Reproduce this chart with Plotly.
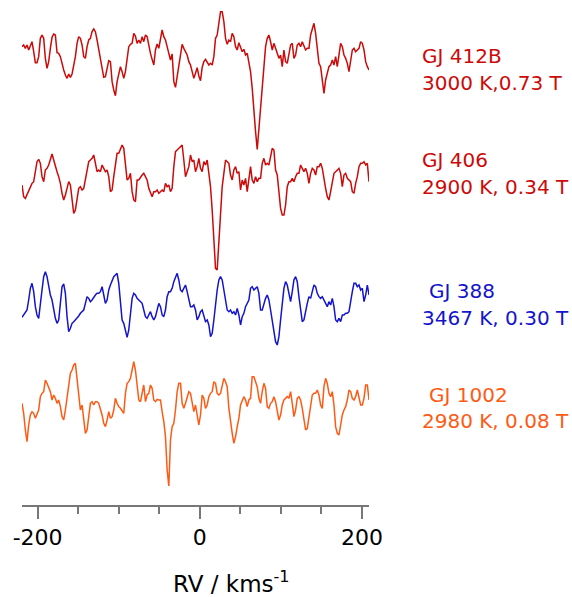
import numpy as np
import plotly.graph_objects as go

# LSD profiles: one value every ~2.06 km/s from -219.3 to 208.7
# (relative depth, arbitrary units, larger = deeper), stacked with an offset per star
rv = np.linspace(-219.3, 208.7, 209)

gj412b = [140, 135, 145, 135, 150, 140, 125, 155, 188, 188, 170, 115, 105, 115, 175, 205, 185, 145, 112, 102,
          105, 158, 160, 170, 195, 210, 225, 235, 222, 232, 222, 195, 170, 130, 110, 115, 135, 170, 175, 140,
          120, 115, 95, 87, 95, 120, 150, 172, 205, 232, 230, 210, 182, 185, 245, 270, 287, 245, 218, 200,
          215, 235, 215, 175, 140, 133, 130, 100, 108, 130, 120, 130, 110, 125, 105, 110, 140, 160, 178, 195,
          150, 132, 145, 110, 90, 110, 120, 140, 165, 180, 162, 245, 262, 230, 195, 165, 133, 145, 155, 165,
          185, 195, 215, 235, 220, 203, 228, 242, 202, 185, 178, 185, 195, 190, 195, 170, 115, 105, 75, 35,
          35, 65, 115, 133, 120, 125, 100, 110, 140, 150, 128, 140, 155, 148, 165, 160, 190, 215, 265, 340,
          395, 448, 385, 310, 270, 190, 140, 115, 105, 125, 150, 130, 145, 165, 175, 165, 200, 150, 185, 190,
          165, 135, 130, 175, 165, 135, 130, 140, 125, 135, 150, 145, 145, 105, 90, 70, 100, 150, 190, 200,
          250, 280, 240, 215, 200, 195, 180, 195, 170, 200, 160, 130, 140, 165, 175, 190, 215, 185, 150, 145,
          155, 150, 145, 125, 130, 150, 185, 200, 210]

gj406 = [165, 200, 205, 195, 185, 170, 160, 155, 130, 95, 88, 100, 140, 155, 120, 115, 105, 85, 72, 90,
         110, 125, 140, 160, 190, 210, 195, 170, 155, 165, 210, 250, 240, 200, 175, 170, 180, 175, 150, 130,
         95, 90, 85, 75, 100, 125, 120, 125, 105, 115, 125, 120, 140, 185, 180, 140, 105, 70, 70, 55,
         45, 55, 100, 150, 145, 130, 185, 210, 215, 150, 150, 140, 135, 130, 140, 150, 175, 190, 200, 185,
         185, 180, 190, 185, 180, 185, 160, 170, 165, 185, 175, 110, 65, 60, 55, 50, 45, 90, 140, 125,
         110, 75, 95, 90, 125, 110, 85, 115, 125, 95, 105, 90, 125, 170, 240, 330, 415, 420, 340, 240,
         170, 130, 90, 95, 100, 135, 150, 120, 110, 130, 125, 180, 150, 165, 145, 185, 140, 110, 150, 160,
         140, 155, 145, 145, 100, 85, 105, 100, 105, 80, 55, 60, 120, 135, 180, 235, 255, 255, 225, 170,
         155, 155, 145, 155, 140, 130, 130, 105, 115, 125, 115, 130, 160, 130, 115, 120, 135, 110, 110, 100,
         115, 150, 175, 200, 210, 185, 150, 130, 125, 120, 115, 130, 170, 135, 130, 145, 150, 155, 185, 190,
         160, 140, 110, 100, 100, 95, 105, 100, 155]

gj388 = [172, 165, 155, 150, 120, 85, 70, 95, 140, 165, 175, 140, 90, 50, 35, 50, 85, 105, 120, 150,
         175, 190, 180, 130, 80, 72, 100, 170, 215, 205, 190, 185, 180, 172, 168, 160, 155, 150, 130, 110,
         115, 125, 120, 110, 105, 100, 100, 95, 80, 105, 130, 120, 90, 75, 60, 50, 45, 40, 70, 130,
         180, 190, 210, 232, 210, 150, 115, 100, 105, 115, 120, 125, 130, 150, 170, 175, 165, 155, 170, 180,
         170, 150, 130, 140, 165, 170, 150, 110, 95, 95, 85, 65, 50, 40, 60, 90, 95, 85, 75, 95,
         115, 140, 140, 135, 150, 180, 170, 155, 150, 165, 185, 180, 195, 230, 220, 180, 130, 90, 60, 50,
         60, 90, 130, 150, 155, 150, 160, 155, 165, 145, 165, 195, 170, 160, 140, 130, 120, 85, 80, 90,
         85, 80, 100, 150, 150, 130, 115, 105, 120, 150, 180, 210, 245, 255, 230, 180, 130, 85, 65, 75,
         100, 125, 95, 60, 50, 65, 110, 150, 185, 180, 150, 130, 110, 115, 95, 75, 80, 100, 110, 115,
         110, 120, 125, 140, 125, 135, 115, 140, 180, 185, 175, 185, 165, 165, 160, 160, 155, 120, 95, 70,
         70, 80, 75, 90, 85, 125, 105, 75, 105]

gj1002 = [160, 190, 240, 275, 225, 195, 185, 190, 205, 195, 180, 140, 130, 125, 90, 100, 110, 125, 150, 135,
          145, 160, 150, 170, 200, 210, 180, 140, 95, 70, 60, 45, 40, 90, 150, 180, 165, 200, 250, 240,
          200, 160, 155, 165, 155, 155, 160, 175, 195, 220, 230, 210, 185, 205, 200, 180, 145, 160, 170, 175,
          185, 190, 130, 100, 95, 85, 60, 35, 60, 115, 150, 155, 130, 105, 155, 135, 130, 105, 115, 150,
          155, 148, 150, 150, 185, 215, 260, 360, 408, 270, 230, 220, 180, 125, 100, 100, 160, 175, 160, 140,
          125, 130, 155, 185, 165, 190, 225, 195, 135, 145, 175, 165, 140, 130, 125, 95, 100, 130, 135, 130,
          110, 85, 95, 110, 175, 220, 250, 280, 260, 230, 205, 165, 150, 140, 150, 170, 150, 145, 80, 80,
          95, 110, 145, 160, 125, 100, 115, 170, 175, 160, 155, 140, 155, 185, 210, 195, 165, 150, 145, 140,
          145, 125, 160, 200, 180, 145, 140, 150, 175, 215, 240, 235, 200, 155, 135, 130, 130, 120, 135, 165,
          175, 110, 85, 100, 130, 140, 125, 165, 230, 250, 255, 225, 195, 180, 170, 150, 120, 125, 145, 150,
          140, 120, 140, 165, 165, 145, 105, 105, 150]

profiles = [gj412b, gj406, gj388, gj1002]
offsets = [0, 130, 260, 350]
colors = ["#cc0a0a", "#cc0a0a", "#1414cc", "#ff5a14"]
names = ["GJ 412B", "GJ 406", "GJ 388", "GJ 1002"]
params = ["3000 K,0.73 T", "2900 K, 0.34 T", "3467 K, 0.30 T", "2980 K, 0.08 T"]

fig = go.Figure()
for prof, off, col, nm in zip(profiles, offsets, colors, names):
    fig.add_trace(go.Scatter(x=rv, y=off + np.array(prof) / 3.0, mode="lines",
                             line=dict(color=col, width=1.5), name=nm))

# plot area spans page px x 22..369, y 0..505
X0, X1, Y0, Y1 = 22.0, 369.0, 0.0, 505.0


def px_to_paper(px, py):
    return (px - X0) / (X1 - X0), (Y1 - py) / (Y1 - Y0)


name_pos = [(420, 56), (420, 160.5), (427, 290.5), (427, 394.5)]
par_pos = [(420, 83), (420, 187), (420, 317.5), (420, 421)]
for i in range(4):
    for txt, (px, py) in [(names[i], name_pos[i]), (params[i], par_pos[i])]:
        ax, ay = px_to_paper(px, py)
        fig.add_annotation(text=txt, xref="paper", yref="paper", x=ax, y=ay,
                           xanchor="left", yanchor="middle", showarrow=False,
                           font=dict(family="DejaVu Sans", size=20, color=colors[i]))

tx, ty = px_to_paper(231, 582)
fig.add_annotation(text="RV / kms<sup>-1</sup>", xref="paper", yref="paper", x=tx, y=ty,
                   xanchor="center", yanchor="middle", showarrow=False,
                   font=dict(family="DejaVu Sans", size=23, color="black"))

fig.update_layout(
    width=572, height=597,
    margin=dict(l=22, r=203, t=0, b=92),
    paper_bgcolor="white", plot_bgcolor="white",
    showlegend=False,
    font=dict(family="DejaVu Sans", color="black"),
)
fig.update_xaxes(range=[-219.3, 208.7], showgrid=False, zeroline=False,
                 showline=True, linecolor="#777777", linewidth=1.5,
                 ticks="outside", ticklen=12, tickwidth=1.5, tickcolor="#777777",
                 tickvals=[-200, 0, 200], ticktext=["-200", "0", "200"],
                 tickfont=dict(family="DejaVu Sans", size=22, color="black"),
                 minor=dict(tickvals=[-150, -100, -50, 50, 100, 150], ticks="outside",
                            ticklen=7, tickwidth=1.5, tickcolor="#777777"))
fig.update_yaxes(range=[505, 0], visible=False)

fig.write_html("out.html", config={"displayModeBar": False},
               post_script="document.body.style.margin='0';document.body.style.overflow='hidden';")
